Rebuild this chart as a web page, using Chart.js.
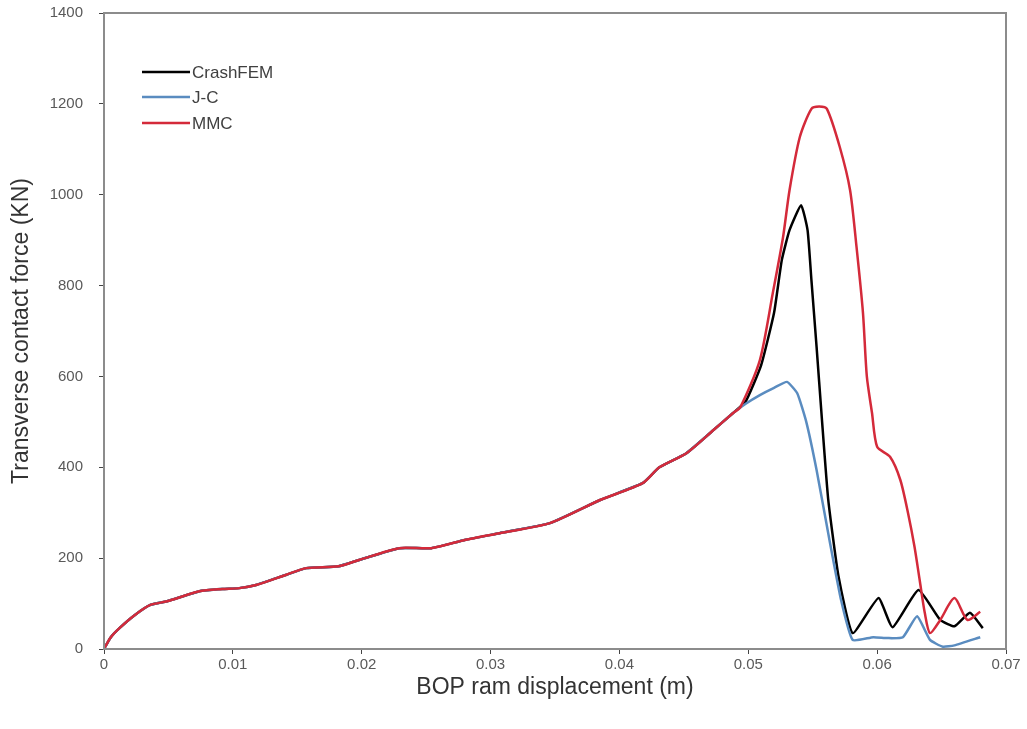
<!DOCTYPE html>
<html>
<head>
<meta charset="utf-8">
<script src="https://cdn.jsdelivr.net/npm/chart.js@4/dist/chart.umd.min.js"></script>
<style>
  html, body { margin: 0; padding: 0; background: #ffffff; }
  #wrap { width: 1027px; height: 729px; position: relative; }
</style>
</head>
<body>
<div id="wrap"><canvas id="c"></canvas></div>
<script>
// Loading path shared by all three models (displacement in m, force in kN)
const baseDisp = [0, 0.0005, 0.0012, 0.0024, 0.0036, 0.0049, 0.0074, 0.0092, 0.0105, 0.0118,
  0.0141, 0.0157, 0.0182, 0.0198, 0.0229, 0.0254, 0.028, 0.0307, 0.0346, 0.0385,
  0.0418, 0.0431, 0.0452, 0.0473, 0.0488];
const baseForce = [0, 25, 46, 75, 97, 105, 127, 132, 134, 141,
  163, 178, 182, 196, 222, 222, 240, 255, 277, 328,
  365, 400, 431, 482, 519];

// CrashFEM after the split
const crashDisp = [0.0498, 0.051, 0.052, 0.0526, 0.0532, 0.0541, 0.0546, 0.0549, 0.0553, 0.0557,
  0.0562, 0.057, 0.0581, 0.0601, 0.0612, 0.0632, 0.0649, 0.066, 0.0672, 0.0682];
const crashForce = [545, 625, 740, 856, 922, 977, 922, 812, 665, 511,
  330, 160, 35, 112, 48, 130, 64, 50, 80, 46];

// J-C after the split
const jcDisp = [0.0498, 0.0509, 0.052, 0.053, 0.0538, 0.0545, 0.0553, 0.0563, 0.0572, 0.0581,
  0.0597, 0.0608, 0.062, 0.0631, 0.0641, 0.0651, 0.066, 0.068];
const jcForce = [540, 559, 575, 588, 563, 500, 394, 240, 108, 20,
  26, 24, 26, 72, 20, 5, 8, 26];

// MMC after the split
const mmcDisp = [0.0494, 0.0509, 0.0519, 0.0527, 0.0532, 0.054, 0.0549, 0.0555, 0.0561, 0.0571,
  0.0579, 0.0584, 0.0589, 0.0592, 0.0596, 0.06, 0.061, 0.0618, 0.0624, 0.0629,
  0.0633, 0.0637, 0.0641, 0.0649, 0.066, 0.067, 0.068];
const mmcForce = [533, 636, 783, 907, 1010, 1127, 1189, 1194, 1189, 1105,
  1010, 885, 740, 600, 520, 445, 423, 372, 299, 225,
  152, 79, 35, 64, 112, 64, 82];

const seriesNames = ['CrashFEM', 'J-C', 'MMC'];
const xTickLabels = ['0', '0.01', '0.02', '0.03', '0.04', '0.05', '0.06', '0.07'];
const yTickLabels = ['0', '200', '400', '600', '800', '1000', '1200', '1400'];

function toPoints(xs, ys) {
  return xs.map((x, i) => ({ x: x, y: ys[i] }));
}
const crashPts = toPoints(baseDisp.concat(crashDisp), baseForce.concat(crashForce));
const jcPts = toPoints(baseDisp.concat(jcDisp), baseForce.concat(jcForce));
const mmcPts = toPoints(baseDisp.concat(mmcDisp), baseForce.concat(mmcForce));

const AXIS_GRAY = '#8c8c8c';
const TEXT_GRAY = '#595959';
const FONT = '"Liberation Sans", Arial, sans-serif';

// Frame around the plot area plus the inset legend
const framePlugin = {
  id: 'frame',
  afterDatasetsDraw(chart) {
    const { ctx, chartArea: a } = chart;
    ctx.save();
    ctx.strokeStyle = AXIS_GRAY;
    ctx.lineWidth = 2;
    ctx.strokeRect(a.left, a.top, a.right - a.left, a.bottom - a.top);

    // legend
    const x0 = a.left + 38, len = 48;
    const ys = [a.top + 59, a.top + 84, a.top + 110];
    ctx.font = '17px ' + FONT;
    ctx.textBaseline = 'middle';
    ctx.textAlign = 'left';
    chart.data.datasets.forEach((ds, i) => {
      ctx.strokeStyle = ds.borderColor;
      ctx.lineWidth = 2.5;
      ctx.beginPath();
      ctx.moveTo(x0, ys[i]);
      ctx.lineTo(x0 + len, ys[i]);
      ctx.stroke();
      ctx.fillStyle = '#404040';
      ctx.fillText(ds.label, x0 + len + 2, ys[i] + 1);
    });
    ctx.restore();
  }
};

new Chart(document.getElementById('c'), {
  type: 'line',
  data: {
    datasets: [
      { label: seriesNames[0], data: crashPts, borderColor: '#000000', borderWidth: 2.5, tension: 0.15, order: 3 },
      { label: seriesNames[1], data: jcPts, borderColor: '#5a8cc0', borderWidth: 2.5, tension: 0.15, order: 2 },
      { label: seriesNames[2], data: mmcPts, borderColor: '#d42a3a', borderWidth: 2.5, tension: 0.25, order: 1 }
    ]
  },
  options: {
    responsive: true,
    maintainAspectRatio: false,
    animation: false,
    layout: { padding: { left: 0, right: 21, top: 13, bottom: 28 } },
    elements: { point: { radius: 0 } },
    plugins: { legend: { display: false }, tooltip: { enabled: false } },
    scales: {
      x: {
        type: 'linear',
        min: 0, max: 0.07,
        afterFit(s) { s.height = 52; s.paddingLeft = 0; s.paddingRight = 0; },
        afterBuildTicks(s) { s.ticks = xTickLabels.map(t => ({ value: parseFloat(t) })); },
        ticks: {
          callback: (v, i) => xTickLabels[i],
          color: TEXT_GRAY, font: { family: FONT, size: 15 }, padding: 2, maxRotation: 0
        },
        grid: { display: true, drawOnChartArea: false, tickLength: 5, color: '#444' },
        border: { color: AXIS_GRAY, width: 2 },
        title: {
          display: true, text: 'BOP ram displacement (m)',
          color: '#333', font: { family: FONT, size: 23 }, padding: { top: 4, bottom: 0 }
        }
      },
      y: {
        min: 0, max: 1400,
        afterFit(s) { s.width = 104; s.paddingTop = 0; s.paddingBottom = 0; },
        afterBuildTicks(s) { s.ticks = yTickLabels.map(t => ({ value: parseFloat(t) })); },
        ticks: {
          callback: (v, i) => yTickLabels[i],
          color: TEXT_GRAY, font: { family: FONT, size: 15 }, padding: 16
        },
        grid: { display: true, drawOnChartArea: false, tickLength: 5, color: '#444' },
        border: { color: AXIS_GRAY, width: 2 },
        title: {
          display: true, text: 'Transverse contact force (KN)',
          color: '#333', font: { family: FONT, size: 23 }, padding: { top: 8, bottom: 0 }
        }
      }
    }
  },
  plugins: [framePlugin]
});
</script>
</body>
</html>
